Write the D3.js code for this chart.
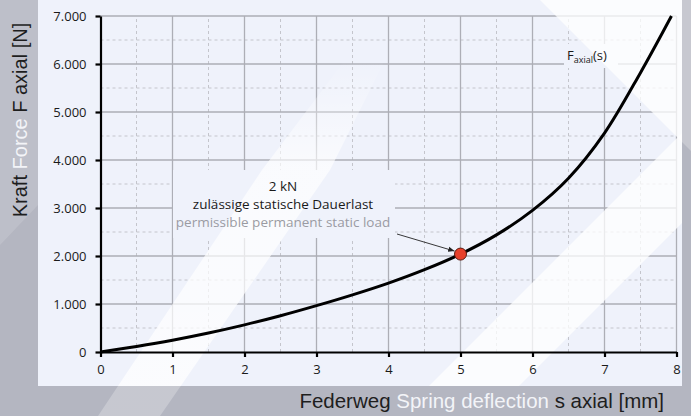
<!DOCTYPE html>
<meta charset="utf-8">
<html>
<script src="https://d3js.org/d3.v7.min.js"></script>
<style>
  body { margin: 0; background: #b4b6c1; }
  svg { display: block; }
</style>
<body>
<div id="chart"></div>
<script>

// spring deflection s [mm] and axial force F [N]
var sValues = [0, 0.5, 1, 1.5, 2, 2.5, 3, 3.5, 4, 4.5, 5, 5.5, 6, 6.5, 7, 7.5, 7.93];
var fValues = [0, 115, 245, 395, 565, 755, 965, 1190, 1435, 1715, 2040, 2440, 2950, 3620, 4560, 5820, 7000];

var xTicks = [0, 1, 2, 3, 4, 5, 6, 7, 8];
var yTicks = [0, 1000, 2000, 3000, 4000, 5000, 6000, 7000];
var xMinor = [0.5, 1.5, 2.5, 3.5, 4.5, 5.5, 6.5, 7.5];
var yMinor = [500, 1500, 2500, 3500, 4500, 5500, 6500];

// marked point: permissible static load
var markS = [5];
var markF = [2040];

var width = 691,
    height = 416;

var panelColor = "#eff2fb";
var tickFont = "'Open Sans', 'Noto Sans', sans-serif";

var svg = d3.select("#chart")
  .append("svg")
    .attr("width", width)
    .attr("height", height);

var x = d3.scaleLinear().domain([0, 8]).range([100.5, 676.5]);
var y = d3.scaleLinear().domain([0, 7000]).range([352, 16]);

var de = d3.formatLocale({decimal: ",", thousands: ".", grouping: [3], currency: ["", " €"]});
var fmt = de.format(",d");

var defs = svg.append("defs");
defs.append("clipPath").attr("id", "panelClip")
  .append("rect").attr("x", 38).attr("y", 0).attr("width", 644).attr("height", 386);
var grad = defs.append("linearGradient").attr("id", "fade")
    .attr("x1", 0).attr("y1", 1).attr("x2", 0).attr("y2", 0);
grad.append("stop").attr("offset", "0%").attr("stop-color", "#fff").attr("stop-opacity", 1);
grad.append("stop").attr("offset", "70%").attr("stop-color", "#fff").attr("stop-opacity", 0.9);
grad.append("stop").attr("offset", "100%").attr("stop-color", "#fff").attr("stop-opacity", 0);

// watermark shapes
var stripes = [
  {pts: "98,416 160,416 330,170 385,60 345,60 262,170", fill: "url(#fade)", band: true},
  {pts: "540,0 691,0 691,151", fill: "#fff", band: true},
  {pts: "691,124 691,214 519,386 429,386", fill: "#fff", band: false}
];

// grey frame
svg.append("rect")
    .attr("width", width).attr("height", height)
    .attr("fill", "#b4b6c1");
svg.append("polygon")
    .attr("points", "0,0 38,0 38,205 0,245")
    .attr("fill", "#fff").attr("opacity", 0.13);
svg.selectAll("polygon.wmg").data(stripes.filter(d => d.band)).enter().append("polygon")
    .attr("points", d => d.pts).attr("fill", d => d.fill).attr("opacity", 0.25);

// light panel
svg.append("rect")
    .attr("x", 38).attr("y", 0)
    .attr("width", 644).attr("height", 386)
    .attr("fill", panelColor);

// gridlines
var grid = svg.append("g");
grid.selectAll("line.xmin").data(xMinor).enter().append("line")
    .attr("x1", d => x(d)).attr("x2", d => x(d))
    .attr("y1", y(0)).attr("y2", y(7000))
    .attr("stroke", "#c4c5cc").attr("stroke-dasharray", "3,3");
grid.selectAll("line.ymin").data(yMinor).enter().append("line")
    .attr("x1", x(0)).attr("x2", x(8))
    .attr("y1", d => y(d)).attr("y2", d => y(d))
    .attr("stroke", "#c4c5cc").attr("stroke-dasharray", "3,3");
grid.selectAll("line.xmaj").data(xTicks.slice(1)).enter().append("line")
    .attr("x1", d => x(d)).attr("x2", d => x(d))
    .attr("y1", y(0)).attr("y2", y(7000))
    .attr("stroke", "#adaeb6").attr("stroke-width", 1.3);
grid.selectAll("line.ymaj").data(yTicks.slice(1)).enter().append("line")
    .attr("x1", x(0)).attr("x2", x(8))
    .attr("y1", d => y(d)).attr("y2", d => y(d))
    .attr("stroke", "#adaeb6").attr("stroke-width", 1.3);

// label backgrounds hide the grid
svg.append("rect")
    .attr("x", 173).attr("y", 170).attr("width", 222).attr("height", 68)
    .attr("fill", panelColor);
svg.append("rect")
    .attr("x", 564).attr("y", 44).attr("width", 54).attr("height", 24)
    .attr("fill", panelColor);

svg.append("g").attr("clip-path", "url(#panelClip)")
  .selectAll("polygon").data(stripes).enter().append("polygon")
    .attr("points", d => d.pts).attr("fill", d => d.fill).attr("opacity", 0.75);

// axes
var xAxis = svg.append("g")
    .attr("transform", "translate(0," + y(0) + ")")
    .call(d3.axisBottom(x).tickValues(xTicks).tickSize(5).tickSizeOuter(0).tickPadding(8));
var yAxis = svg.append("g")
    .attr("transform", "translate(" + x(0) + ",0)")
    .call(d3.axisLeft(y).tickValues(yTicks).tickFormat(fmt).tickSize(5).tickSizeOuter(0).tickPadding(9));

[xAxis, yAxis].forEach(function(a) {
  a.select(".domain").attr("stroke", "#000").attr("stroke-width", 2.2);
  a.selectAll(".tick line").attr("stroke", "#000").attr("stroke-width", 2.2);
  a.selectAll(".tick text")
    .attr("fill", "#1a1a1a")
    .style("font-family", tickFont)
    .style("font-size", "13px");
});

// curve
var pts = sValues.map(function(s, i) { return [s, fValues[i]]; });
svg.append("path")
    .datum(pts)
    .attr("fill", "none")
    .attr("stroke", "#000")
    .attr("stroke-width", 3)
    .attr("d", d3.line().x(d => x(d[0])).y(d => y(d[1])).curve(d3.curveCatmullRom));

// annotation
var ann = svg.append("g")
    .attr("text-anchor", "middle")
    .style("font-family", tickFont)
    .style("font-size", "13.5px");
ann.append("text").attr("x", 283).attr("y", 191).attr("fill", "#1a1a1a").text("2 kN");
ann.append("text").attr("x", 283).attr("y", 209).attr("fill", "#1a1a1a").text("zulässige statische Dauerlast");
ann.append("text").attr("x", 283).attr("y", 227).attr("fill", "#9a9ba3").text("permissible permanent static load");

defs.append("marker")
    .attr("id", "arr")
    .attr("viewBox", "0 0 10 10")
    .attr("refX", 10).attr("refY", 5)
    .attr("markerWidth", 7).attr("markerHeight", 7)
    .attr("orient", "auto")
  .append("path")
    .attr("d", "M0,1 L10,5 L0,9 z")
    .attr("fill", "#222");

svg.append("line")
    .attr("x1", 397).attr("y1", 234)
    .attr("x2", x(markS[0]) - 6).attr("y2", y(markF[0]) - 3)
    .attr("stroke", "#222").attr("stroke-width", 0.9)
    .attr("marker-end", "url(#arr)");

svg.selectAll("circle.mark").data(markS).enter().append("circle")
    .attr("cx", d => x(d))
    .attr("cy", (d, i) => y(markF[i]))
    .attr("r", 6)
    .attr("fill", "#e8402a")
    .attr("stroke", "#5a1a10")
    .attr("stroke-width", 1);

// curve label
var fl = svg.append("text")
    .attr("x", 567).attr("y", 60)
    .attr("fill", "#1a1a1a")
    .style("font-family", tickFont)
    .style("font-size", "13px");
fl.append("tspan").text("F");
fl.append("tspan").attr("dy", 3).style("font-size", "9px").text("axial");
fl.append("tspan").attr("dy", -3).text("(s)");

// axis titles
var yt = svg.append("text")
    .attr("transform", "translate(27,120) rotate(-90)")
    .attr("text-anchor", "middle")
    .style("font-family", "'Liberation Sans', Arial, sans-serif")
    .style("font-size", "20px");
yt.append("tspan").attr("fill", "#1e1e1e").text("Kraft ");
yt.append("tspan").attr("fill", "#f3f4f8").text("Force ");
yt.append("tspan").attr("fill", "#1e1e1e").text("F axial [N]");

var xt = svg.append("text")
    .attr("x", 664).attr("y", 408)
    .attr("text-anchor", "end")
    .style("font-family", "'Liberation Sans', Arial, sans-serif")
    .style("font-size", "20.5px");
xt.append("tspan").attr("fill", "#1e1e1e").text("Federweg ");
xt.append("tspan").attr("fill", "#f3f4f8").text("Spring deflection ");
xt.append("tspan").attr("fill", "#1e1e1e").text("s axial [mm]");

</script>
</body>
</html>
